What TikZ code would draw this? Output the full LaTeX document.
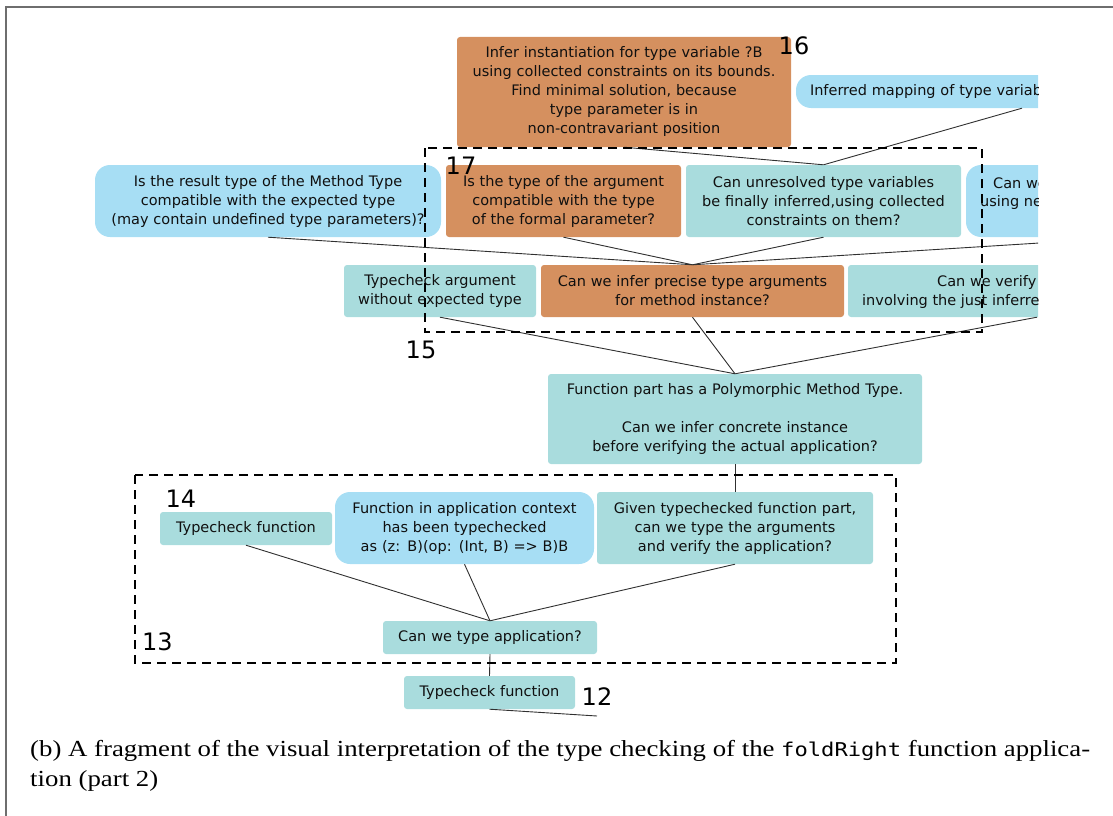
\documentclass[tikz,border=0pt]{standalone}
\usepackage{fontspec}
\usepackage{graphicx}
\setmainfont{Liberation Serif}
\newfontfamily\boxfamily{DejaVu Sans}
\newfontfamily\codefamily{DejaVu Sans Mono}
\usetikzlibrary{calc}
\definecolor{tealbox}{HTML}{A9DCDD}
\definecolor{orangebox}{HTML}{D5905F}
\definecolor{bluebox}{HTML}{A7DEF4}
\definecolor{ink}{HTML}{101010}
\definecolor{wirecol}{HTML}{303030}
\definecolor{rulecol}{HTML}{6E6E6E}
\newsavebox\capfirst
\newcommand\capfont{\normalfont\fontsize{23}{23}\selectfont}
\newcommand\boxtextfont{\boxfamily\fontsize{14.5}{19}\selectfont}

\begin{document}
\sbox\capfirst{\capfont (b) A fragment of the visual interpretation of the type checking of the {\codefamily\fontsize{19}{19}\selectfont foldRight} function applica-}%
\pgfmathsetmacro\capsx{1060/(\wd\capfirst)}%
\begin{tikzpicture}[x=1pt,y=-1pt,
  box/.style={inner sep=0pt, rounded corners=3pt, align=center, text=ink,
     font=\boxtextfont},
  tealnode/.style={box, fill=tealbox},
  orangenode/.style={box, fill=orangebox},
  bluenode/.style={box, fill=bluebox, rounded corners=15pt},
  sz/.style 2 args={text width=#1pt, minimum height=#2pt},
  cuttext/.style={inner sep=0pt, anchor=west, text=ink, font=\boxtextfont},
  wire/.style={draw=wirecol, line width=0.9pt},
  group/.style={draw=black, line width=1.6pt, dash pattern=on 9pt off 6pt},
  num/.style={inner sep=0pt, text=black, font=\boxfamily\fontsize{24}{24}\selectfont},
]
\useasboundingbox (0,0) rectangle (1113,816);

% page frame
\draw[rulecol, line width=1.5pt] (6,816) -- (6,7) -- (1113,7);

\begin{scope}
\clip (0,0) rectangle (1038,717);

% level 16
\node[orangenode, sz={334}{110}] (infer) at (624,92)
  {Infer instantiation for type variable ?B\\using collected constraints on its bounds.\\Find minimal solution, because\\type parameter is in\\non-contravariant position};
\node[bluenode, text width=424pt, inner xsep=14pt, minimum height=33pt, align=left] (mapping) at (1022,91.5)
  {Inferred mapping of type variables};

% level 17
\node[bluenode, sz={346}{72}] (result) at (268,201)
  {Is the result type of the Method Type\\compatible with the expected type\\(may contain undefined type parameters)?};
\node[orangenode, sz={235}{72}] (argtype) at (563.5,201)
  {Is the type of the argument\\compatible with the type\\of the formal parameter?};
\node[tealnode, sz={275}{72}] (unres) at (823.5,201)
  {Can unresolved type variables\\be finally inferred,using collected\\constraints on them?};
\node[bluenode, sz={332}{72}] (canw) at (1132,201) {};
\node[cuttext] (canwA) at (993,183) {Can we};
\node[cuttext] (canwB) at (980,202) {using new};

% level 15
\node[tealnode, sz={192}{52}] (tcarg) at (440,291)
  {Typecheck argument\\without expected type};
\node[orangenode, sz={303}{52}] (precise) at (692.5,291)
  {Can we infer precise type arguments\\for method instance?};
\node[tealnode, sz={378}{52}] (verify) at (1037,291) {};
\node[cuttext] (verifyA) at (937,282) {Can we verify};
\node[cuttext] (verifyB) at (862,301) {involving the just inferred};

% polymorphic function part
\node[tealnode, sz={374}{90}] (poly) at (735,419)
  {Function part has a Polymorphic Method Type.\\\mbox{}\\Can we infer concrete instance\\before verifying the actual application?};

% level 14
\node[tealnode, sz={172}{33}] (tcfun) at (246,528.5) {Typecheck function};
\node[bluenode, sz={259}{72}] (fctx) at (464.5,528)
  {Function in application context\\has been typechecked\\as (z: B)(op: (Int, B) => B)B};
\node[tealnode, sz={276}{72}] (given) at (735,528)
  {Given typechecked function part,\\can we type the arguments\\and verify the application?};

% level 13 and 12
\node[tealnode, sz={214}{33}] (app) at (490,637.5) {Can we type application?};
\node[tealnode, sz={171}{33}] (tcfun2) at (489.5,692.5) {Typecheck function};
\coordinate (below) at (597,716);

% connectors
\draw[wire] (infer.south) -- (unres.north);
\draw[wire] (mapping.south) -- (unres.north);
\draw[wire] (result.south) -- (precise.north);
\draw[wire] (argtype.south) -- (precise.north);
\draw[wire] (unres.south) -- (precise.north);
\draw[wire] (canw.south) -- (precise.north);
\draw[wire] (tcarg.south) -- (poly.north);
\draw[wire] (precise.south) -- (poly.north);
\draw[wire] (verify.south) -- (poly.north);
\draw[wire] (poly.south) -- (given.north);
\draw[wire] (tcfun.south) -- (app.north);
\draw[wire] (fctx.south) -- (app.north);
\draw[wire] (given.south) -- (app.north);
\draw[wire] (app.south) -- (tcfun2.north);
\draw[wire] (tcfun2.south) -- (below);

% dashed groups
\draw[group] (425,148) rectangle (982,332);
\draw[group] (135,475) rectangle (896,663);

% step numbers
\node[num] (n16) at (794,46) {16};
\node[num] (n17) at (461,166) {17};
\node[num] (n15) at (421,350) {15};
\node[num] (n14) at (181,499) {14};
\node[num] (n13) at (157.5,642) {13};
\node[num] (n12) at (597,697) {12};
\end{scope}

% caption
\node[anchor=base west, inner sep=0pt, text=black] (capA) at (30,756)
  {\scalebox{\capsx}[1]{\usebox\capfirst}};
\node[anchor=base west, inner sep=0pt, text=black] (capB) at (30,786)
  {\scalebox{\capsx}[1]{\capfont tion (part 2)}};
\end{tikzpicture}
\end{document}
